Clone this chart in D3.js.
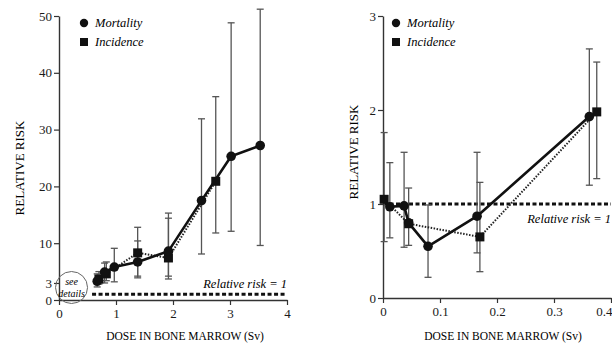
<!DOCTYPE html>
<html>
<head>
<meta charset="utf-8">
<script src="https://cdn.jsdelivr.net/npm/d3@7"></script>
<style>
  body { margin: 0; background: #fff; }
</style>
</head>
<body>
<div id="chart"></div>
<script>
// left panel: full dose range (Sv)
// each row: dose, relative risk, lower CI, upper CI (null = no bar)
const leftMortality = [
  [0.67, 3.3, 2.3, 4.6],
  [0.8, 4.9, 3.0, 6.5],
  [0.97, 5.8, 3.2, 9.1],
  [1.38, 6.7, 4.2, 10.4],
  [1.92, 8.6, 4.2, 15.3],
  [2.5, 17.5, 8.1, 31.9],
  [3.02, 25.3, 12.1, 48.8],
  [3.53, 27.2, 9.6, 51.2]
];
const leftIncidence = [
  [0.7, 3.7, 2.8, 5.0],
  [0.83, 4.6, 3.4, 6.7],
  [1.38, 8.3, 3.9, 12.8],
  [1.92, 7.4, 3.7, 14.4],
  [2.75, 20.9, 11.8, 35.8]
];
const leftYTicks = [0, 3, 10, 20, 30, 40, 50];
const leftXTicks = [0, 1, 2, 3, 4];

// right panel: low dose detail
const rightMortality = [
  [0.012, 0.97, 0.64, 1.44],
  [0.037, 0.98, 0.54, 1.55],
  [0.045, 0.8, null, null],
  [0.079, 0.55, 0.22, 0.99],
  [0.165, 0.87, 0.48, 1.55],
  [0.362, 1.93, 1.2, 2.65]
];
const rightIncidence = [
  [0.002, 1.05, 0.6, 1.76],
  [0.045, 0.79, 0.56, 1.17],
  [0.17, 0.65, 0.28, 1.23],
  [0.375, 1.98, 1.27, 2.51]
];
const rightYTicks = [0, 1, 2, 3];
const rightXTicks = [0, 0.1, 0.2, 0.3, 0.4];

const seriesNames = ['Mortality', 'Incidence'];
const refLabel = 'Relative risk = 1';
const yTitle = 'RELATIVE RISK';
const xTitle = 'DOSE IN BONE MARROW  (Sv)';

const serif = '"Liberation Serif", "DejaVu Serif", "Times New Roman", serif';

const svg = d3.select('#chart').append('svg')
  .attr('width', 612).attr('height', 348)
  .attr('font-family', serif);

function panel(opts) {
  var x = d3.scaleLinear().domain(opts.xDomain).range(opts.xRange);
  var y = d3.scaleLinear().domain(opts.yDomain).range(opts.yRange);
  var g = svg.append('g');

  // axes
  var xAxis = g.append('g')
    .attr('transform', `translate(0,${y(0)})`)
    .call(d3.axisBottom(x).tickValues(opts.xTicks).tickSize(5).tickSizeOuter(0)
      .tickFormat(d3.format(opts.xFormat)));
  var yAxis = g.append('g')
    .attr('transform', `translate(${x(0)},0)`)
    .call(d3.axisLeft(y).tickValues(opts.yTicks).tickSize(5).tickSizeOuter(0)
      .tickFormat(d3.format('d')));
  [xAxis, yAxis].forEach(a => {
    a.attr('font-family', serif);
    a.select('.domain').attr('stroke', '#333').attr('stroke-width', 1.4);
    a.selectAll('.tick line').attr('stroke', '#333').attr('stroke-width', 1.2);
    a.selectAll('.tick text').style('font-size', '13px').attr('fill', '#1a1a1a');
  });
  yAxis.selectAll('.tick text').attr('x', -7);
  xAxis.selectAll('.tick text').attr('y', 9);
  // the last tick label sits on the page edge: keep it inside
  xAxis.selectAll('.tick text')
    .filter(d => x(d) > 600)
    .attr('text-anchor', 'end').attr('x', 611 - x(opts.xDomain[1]) + 1);

  // titles
  g.append('text')
    .attr('transform', `translate(${opts.yTitleX},${opts.yTitleY}) rotate(-90)`)
    .attr('text-anchor', 'middle')
    .style('font-size', '13px')
    .text(yTitle);
  g.append('text')
    .attr('x', opts.xTitleX).attr('y', 340)
    .attr('text-anchor', 'middle')
    .style('font-size', '11.5px')
    .text(xTitle);

  // relative risk = 1 reference
  g.append('line')
    .attr('x1', x(opts.refStart)).attr('x2', x(opts.xDomain[1]))
    .attr('y1', y(1)).attr('y2', y(1))
    .attr('stroke', '#111').attr('stroke-width', 3)
    .attr('stroke-dasharray', '4,2.5');
  g.append('text')
    .attr('x', opts.refLabelX).attr('y', y(1) + opts.refLabelDy)
    .attr('text-anchor', 'end')
    .style('font-size', '12.5px').style('font-style', 'italic')
    .text(refLabel);

  // error bars
  var bars = opts.mortality.concat(opts.incidence).filter(d => d[2] != null);
  var eb = g.append('g').attr('stroke', '#555').attr('stroke-width', 1.3);
  bars.forEach(d => {
    eb.append('line').attr('x1', x(d[0])).attr('x2', x(d[0]))
      .attr('y1', y(d[2])).attr('y2', y(d[3]));
    [d[2], d[3]].forEach(v => eb.append('line')
      .attr('x1', x(d[0]) - 3.5).attr('x2', x(d[0]) + 3.5)
      .attr('y1', y(v)).attr('y2', y(v)));
  });

  var line = d3.line().x(d => x(d[0])).y(d => y(d[1]));
  g.append('path').datum(opts.incidence)
    .attr('fill', 'none').attr('stroke', '#222').attr('stroke-width', 2)
    .attr('stroke-dasharray', '1.5,1.5')
    .attr('d', line);
  g.append('path').datum(opts.mortality)
    .attr('fill', 'none').attr('stroke', '#111').attr('stroke-width', 2.6)
    .attr('stroke-linejoin', 'round')
    .attr('d', line);

  g.selectAll('.sq').data(opts.incidence).join('rect')
    .attr('x', d => x(d[0]) - 4.5).attr('y', d => y(d[1]) - 4.5)
    .attr('width', 9).attr('height', 9).attr('fill', '#111');
  g.selectAll('.ci').data(opts.mortality).join('circle')
    .attr('cx', d => x(d[0])).attr('cy', d => y(d[1]))
    .attr('r', 4.8).attr('fill', '#111');

  // legend
  var lg = g.append('g');
  lg.append('circle').attr('cx', opts.legendX).attr('cy', 23).attr('r', 4.2).attr('fill', '#111');
  lg.append('rect').attr('x', opts.legendX - 4).attr('y', 38).attr('width', 8).attr('height', 8).attr('fill', '#111');
  seriesNames.forEach((n, i) => lg.append('text')
    .attr('x', opts.legendX + 11).attr('y', 27 + i * 19)
    .style('font-size', '12.5px').style('font-style', 'italic')
    .text(n));
  return {g: g, x: x, y: y};
}

var left = panel({
  xDomain: [0, 4], xRange: [59, 287],
  yDomain: [0, 50], yRange: [300, 16],
  xTicks: leftXTicks, yTicks: leftYTicks, xFormat: 'd',
  mortality: leftMortality, incidence: leftIncidence,
  refStart: 0.58, refLabelX: 287, refLabelDy: -6,
  yTitleX: 24, yTitleY: 168, xTitleX: 185, legendX: 84
});

// "see details" circle around the low dose corner
left.g.append('circle')
  .attr('cx', left.x(0.22)).attr('cy', left.y(2.2)).attr('r', 16)
  .attr('fill', 'none').attr('stroke', '#666').attr('stroke-width', 1);
['see', 'details'].forEach((t, i) => left.g.append('text')
  .attr('x', left.x(0.22)).attr('y', left.y(2.2) - 3 + i * 12)
  .attr('text-anchor', 'middle')
  .style('font-size', '10px').style('font-style', 'italic')
  .text(t));

panel({
  xDomain: [0, 0.4], xRange: [383, 611],
  yDomain: [0, 3], yRange: [298, 16],
  xTicks: rightXTicks, yTicks: rightYTicks, xFormat: '.1~f',
  mortality: rightMortality, incidence: rightIncidence,
  refStart: 0, refLabelX: 611, refLabelDy: 19,
  yTitleX: 358, yTitleY: 152, xTitleX: 503, legendX: 396
});

svg.selectAll('text').style('font-family', serif);
</script>
</body>
</html>
